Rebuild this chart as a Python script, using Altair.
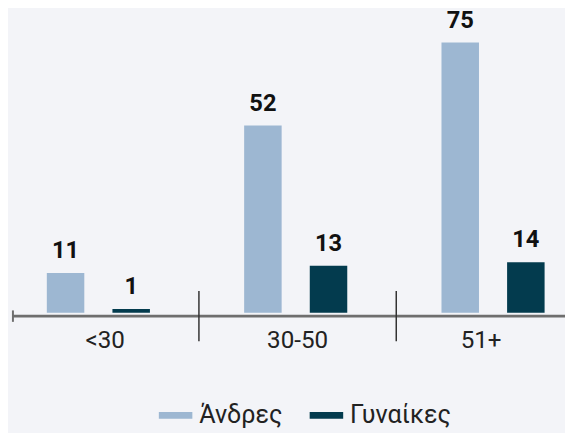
import altair as alt
import pandas as pd

categories = ["<30", "30-50", "51+"]
series = ["Άνδρες", "Γυναίκες"]
men = [11, 52, 75]
women = [1, 13, 14]
colors = ["#9db7d2", "#033b4e"]

rows = []
for c, m, w in zip(categories, men, women):
    rows.append({"age": c, "sex": series[0], "value": m})
    rows.append({"age": c, "sex": series[1], "value": w})
df = pd.DataFrame(rows)
sep = pd.DataFrame({"age": categories[:-1]})
one = pd.DataFrame({"a": [0]})

FONT = "Roboto"
W, H = 565, 274

xscale = alt.Scale(domain=categories, range=[-6.5, 594], paddingInner=0, paddingOuter=0)
xaxis = alt.Axis(title=None, domain=False, ticks=False, labelAngle=0,
                 labelFont=FONT, labelFontSize=24.5, labelColor="#222",
                 labelPadding=16,
                 labelOffset={"condition": [
                     {"test": "datum.value === '<30'", "value": 5},
                     {"test": "datum.value === '51+'", "value": -14}],
                     "value": 0})
x = alt.X("age:N", scale=xscale, sort=categories, axis=xaxis)
xo = alt.XOffset("sex:N", sort=series,
                 scale=alt.Scale(paddingInner=0.4286, paddingOuter=0.718, align=0.48))
y = alt.Y("value:Q", scale=alt.Scale(domain=[0, 75], nice=False, zero=True), axis=None)

bars = alt.Chart(df).mark_bar().encode(
    x=x, xOffset=xo, y=y,
    color=alt.Color("sex:N", sort=series,
                    scale=alt.Scale(domain=series, range=colors),
                    legend=alt.Legend(orient="none", legendX=153, legendY=361,
                                      direction="horizontal", title=None,
                                      symbolType="M-1,-0.2H1V0.2H-1Z", symbolSize=1156,
                                      symbolStrokeWidth=0, labelFont=FONT,
                                      labelFontSize=25.5, labelColor="#222",
                                      labelOffset=7, columnPadding=27)),
)

labels = alt.Chart(df).mark_text(
    baseline="bottom", dy=-10, font=FONT, fontSize=24, fontWeight="bold", color="#111"
).encode(x=x, xOffset=xo, y=y, text="value:Q")

axis_line = alt.Chart(one).mark_rule(color="#6e6e6e", strokeWidth=3).encode(
    x=alt.value(5), x2=alt.value(565), y=alt.value(277.5))
left_tick = alt.Chart(one).mark_rule(color="#6e6e6e", strokeWidth=2).encode(
    x=alt.value(5), y=alt.value(271.7), y2=alt.value(283.3))
separators = alt.Chart(sep).mark_rule(color="#333333", strokeWidth=1.5).encode(
    x=alt.X("age:N", scale=xscale, sort=categories, bandPosition=1, axis=xaxis),
    y=alt.value(252), y2=alt.value(303))

chart = alt.layer(bars, labels, axis_line, left_tick, separators).properties(
    width=W, height=H,
    padding={"left": 0, "top": 32, "right": 0, "bottom": 119},
    autosize="none",
    background="#f3f4f8",
).configure_view(stroke=None)

chart.save("out.html", embed_options={"renderer": "svg", "actions": False})
